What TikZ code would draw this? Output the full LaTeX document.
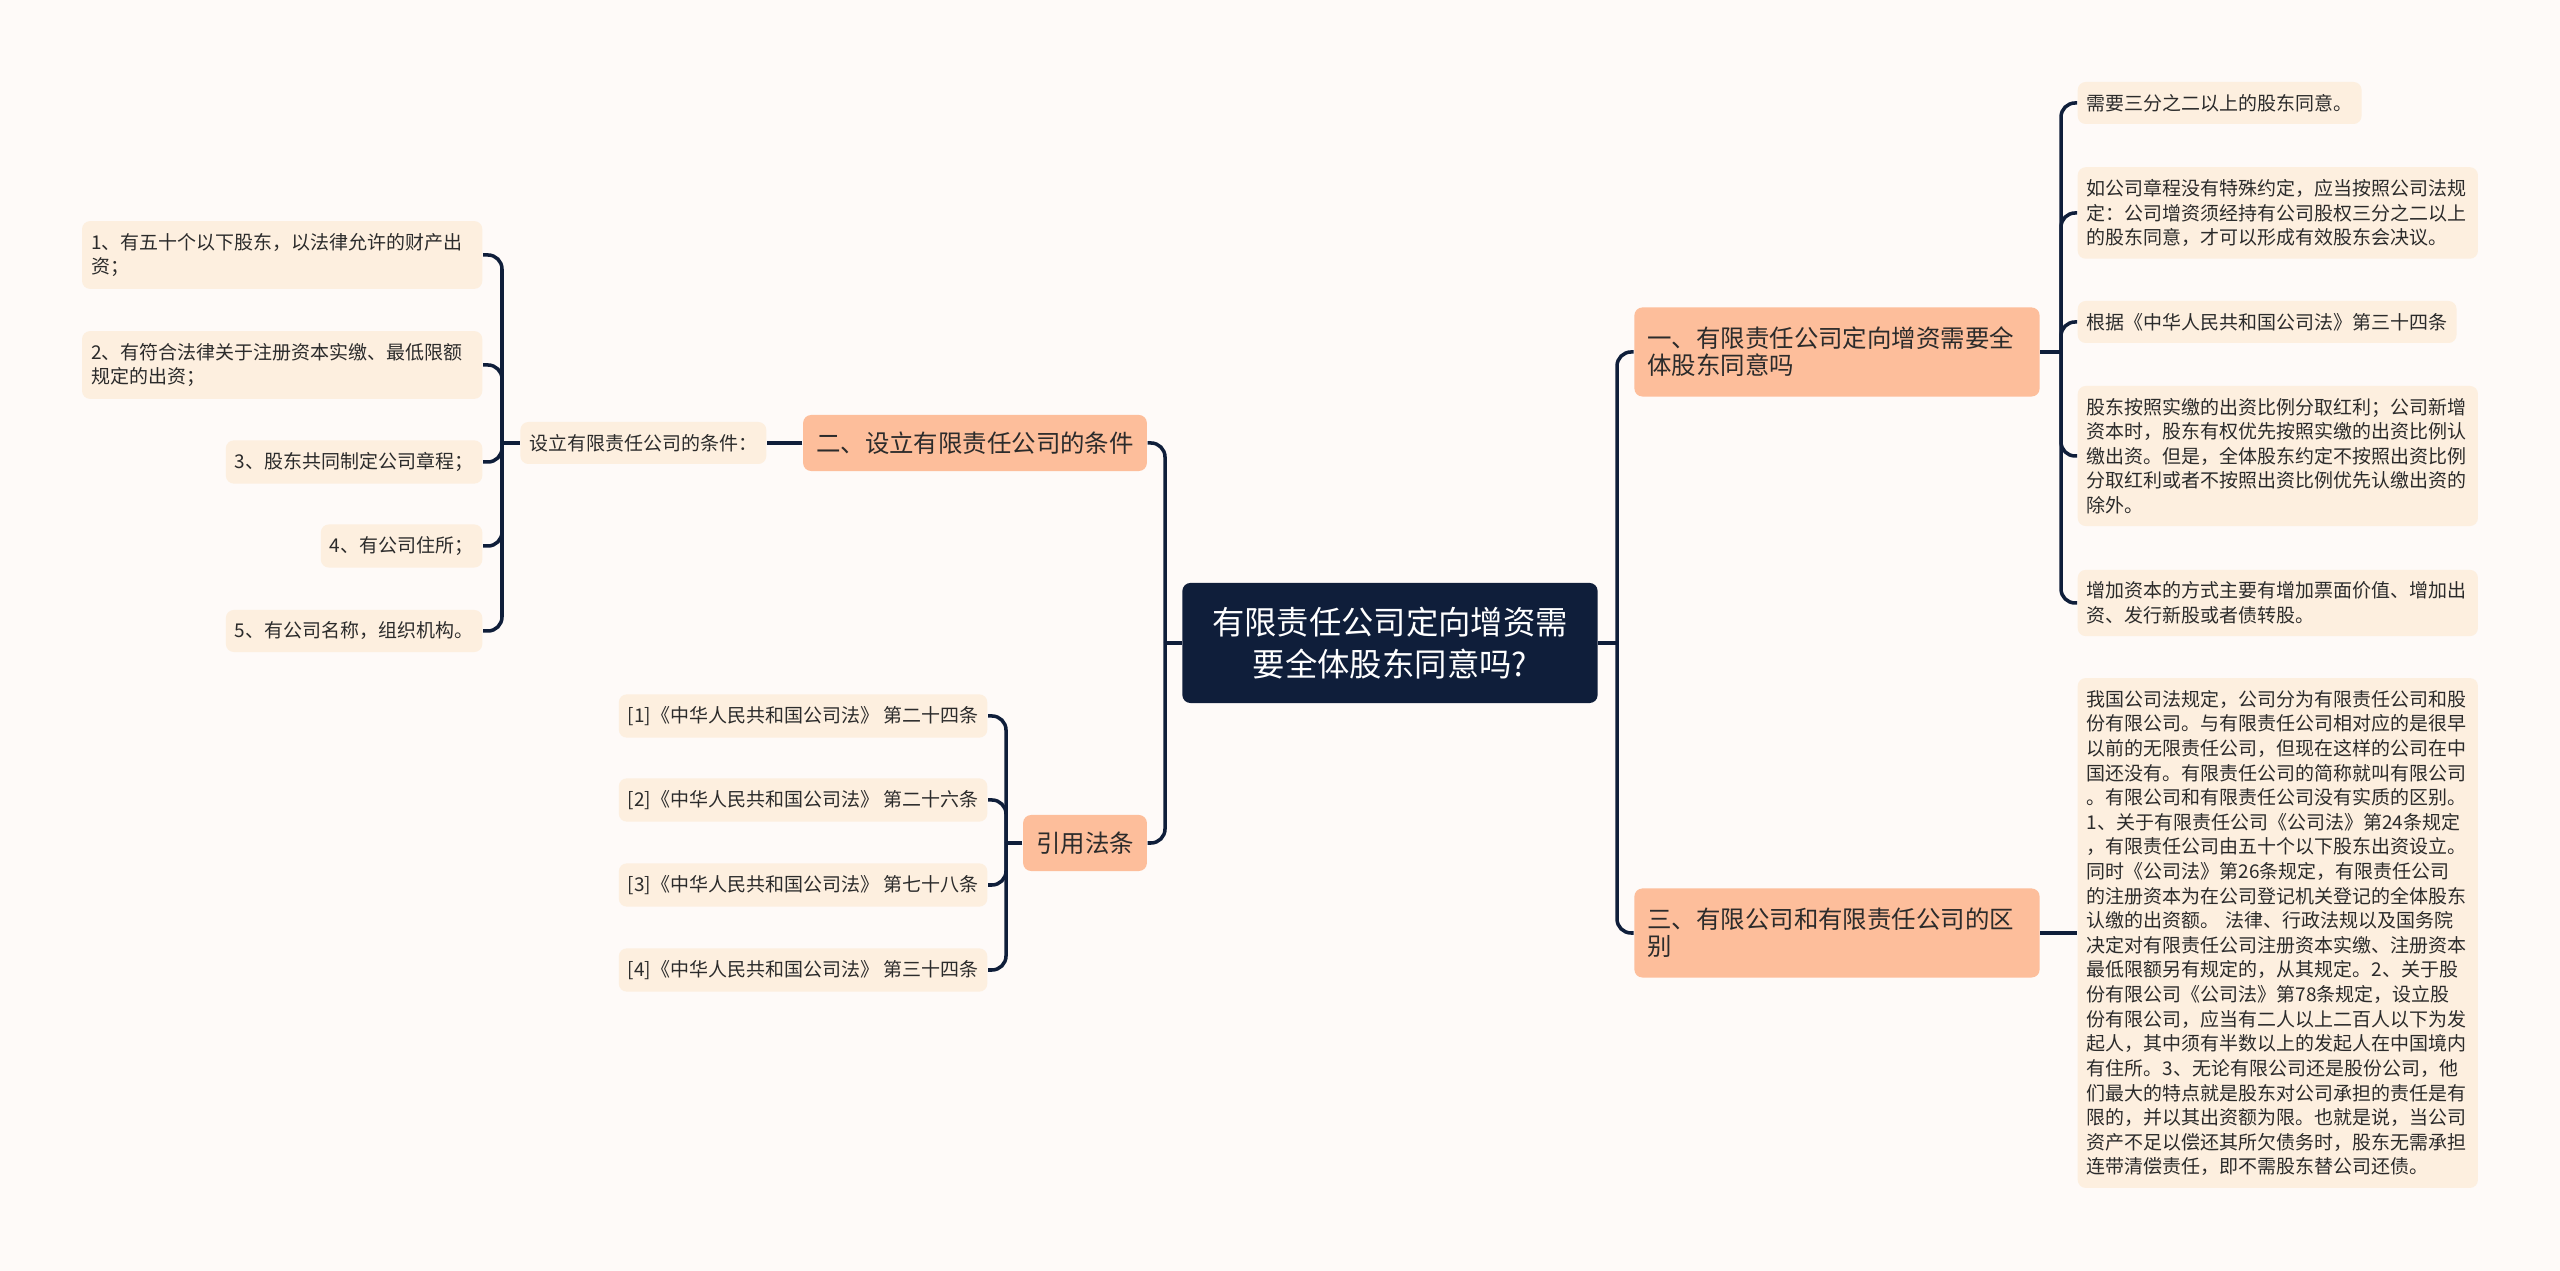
\documentclass[tikz,border=0pt]{standalone}
\usepackage{fontspec}
\newfontfamily\cjk{Noto Sans CJK SC}
\definecolor{paper}{HTML}{FEFAF8}
\definecolor{navy}{HTML}{0F1E3A}
\definecolor{peach}{HTML}{FDBE9B}
\definecolor{cream}{HTML}{FDEFDF}
\definecolor{ink}{HTML}{2B2B2B}
\begin{document}
\begin{tikzpicture}[x=0.01cm, y=-0.01cm,
  link/.style={draw=navy, line width=1pt, rounded corners=0.14cm},
  root/.style={fill=navy, text=white, rounded corners=0.08cm, font=\cjk\fontsize{9.2}{12}\selectfont, align=center, minimum width=4.15cm, minimum height=1.2cm},
  topic/.style={fill=peach, text=ink, rounded corners=0.08cm, font=\cjk\fontsize{6.95}{7.7}\selectfont, inner xsep=0.13cm, minimum height=0.56cm},
  wide/.style={text width=3.79cm, align=left, minimum height=0.89cm},
  leaf/.style={fill=cream, text=ink, rounded corners=0.08cm, font=\cjk\fontsize{5.4}{7}\selectfont, inner xsep=0.09cm, inner ysep=0.12cm, minimum height=0.42cm},
  para/.style={text width=3.82cm, align=left}]
\fill[paper] (0,0) rectangle (2560,1271);
% centre and main topics
\node[root] (root) at (1390,643) {有限责任公司定向增资需\\要全体股东同意吗?};
\node[topic, wide] (b1) at (1837,352) {一、有限责任公司定向增资需要全\\体股东同意吗};
\node[topic, wide] (b3) at (1837,933) {三、有限公司和有限责任公司的区\\别};
\node[topic] (b2) at (975,443) {二、设立有限责任公司的条件};
\node[topic] (law) at (1085,843) {引用法条};
% conditions
\node[leaf, anchor=east] (sub) at (767,443) {设立有限责任公司的条件：};
\node[leaf, para, anchor=east] (l1) at (483,255) {1、有五十个以下股东，以法律允许的财产出\\资；};
\node[leaf, para, anchor=east] (l2) at (483,365) {2、有符合法律关于注册资本实缴、最低限额\\规定的出资；};
\node[leaf, anchor=east] (l3) at (483,462) {3、股东共同制定公司章程；};
\node[leaf, anchor=east] (l4) at (483,546) {4、有公司住所；};
\node[leaf, anchor=east] (l5) at (483,631) {5、有公司名称，组织机构。};
% cited articles
\node[leaf, anchor=east] (r1) at (988,716) {[1]《中华人民共和国公司法》 第二十四条};
\node[leaf, anchor=east] (r2) at (988,800) {[2]《中华人民共和国公司法》 第二十六条};
\node[leaf, anchor=east] (r3) at (988,885) {[3]《中华人民共和国公司法》 第七十八条};
\node[leaf, anchor=east] (r4) at (988,970) {[4]《中华人民共和国公司法》 第三十四条};
% right side
\node[leaf, anchor=west] (s1) at (2077,103) {需要三分之二以上的股东同意。};
\node[leaf, para, anchor=west] (s2) at (2077,213) {如公司章程没有特殊约定，应当按照公司法规\\定：公司增资须经持有公司股权三分之二以上\\的股东同意，才可以形成有效股东会决议。};
\node[leaf, anchor=west] (s3) at (2077,322) {根据《中华人民共和国公司法》第三十四条};
\node[leaf, para, anchor=west] (s4) at (2077,456) {股东按照实缴的出资比例分取红利；公司新增\\资本时，股东有权优先按照实缴的出资比例认\\缴出资。但是，全体股东约定不按照出资比例\\分取红利或者不按照出资比例优先认缴出资的\\除外。};
\node[leaf, para, anchor=west] (s5) at (2077,603) {增加资本的方式主要有增加票面价值、增加出\\资、发行新股或者债转股。};
\node[leaf, para, anchor=west] (s6) at (2077,933) {我国公司法规定，公司分为有限责任公司和股\\份有限公司。与有限责任公司相对应的是很早\\以前的无限责任公司，但现在这样的公司在中\\国还没有。有限责任公司的简称就叫有限公司\\。有限公司和有限责任公司没有实质的区别。\\1、关于有限责任公司《公司法》第24条规定\\，有限责任公司由五十个以下股东出资设立。\\同时《公司法》第26条规定，有限责任公司\\的注册资本为在公司登记机关登记的全体股东\\认缴的出资额。 法律、行政法规以及国务院\\决定对有限责任公司注册资本实缴、注册资本\\最低限额另有规定的，从其规定。2、关于股\\份有限公司《公司法》第78条规定，设立股\\份有限公司，应当有二人以上二百人以下为发\\起人，其中须有半数以上的发起人在中国境内\\有住所。3、无论有限公司还是股份公司，他\\们最大的特点就是股东对公司承担的责任是有\\限的，并以其出资额为限。也就是说，当公司\\资产不足以偿还其所欠债务时，股东无需承担\\连带清偿责任，即不需股东替公司还债。};
% junctions
\coordinate (jl) at (1165,643);
\coordinate (jr) at (1617,643);
\coordinate (j1) at (2061,352);
\coordinate (j2) at (502,443);
\coordinate (j4) at (1006,843);
% connectors
\draw[link] (root.west) -- (jl);
\draw[link] (jl) |- (b2.east);
\draw[link] (jl) |- (law.east);
\draw[link] (root.east) -- (jr);
\draw[link] (jr) |- (b1.west);
\draw[link] (jr) |- (b3.west);
\draw[link] (b1.east) -- (j1);
\foreach \i in {1,...,5} \draw[link] (j1) |- (s\i.west);
\draw[link] (b3.east) -- (s6.west);
\draw[link] (b2.west) -- (sub.east);
\draw[link] (sub.west) -- (j2);
\foreach \i in {1,...,5} \draw[link] (j2) |- (l\i.east);
\draw[link] (law.west) -- (j4);
\foreach \i in {1,...,4} \draw[link] (j4) |- (r\i.east);
\end{tikzpicture}
\end{document}
